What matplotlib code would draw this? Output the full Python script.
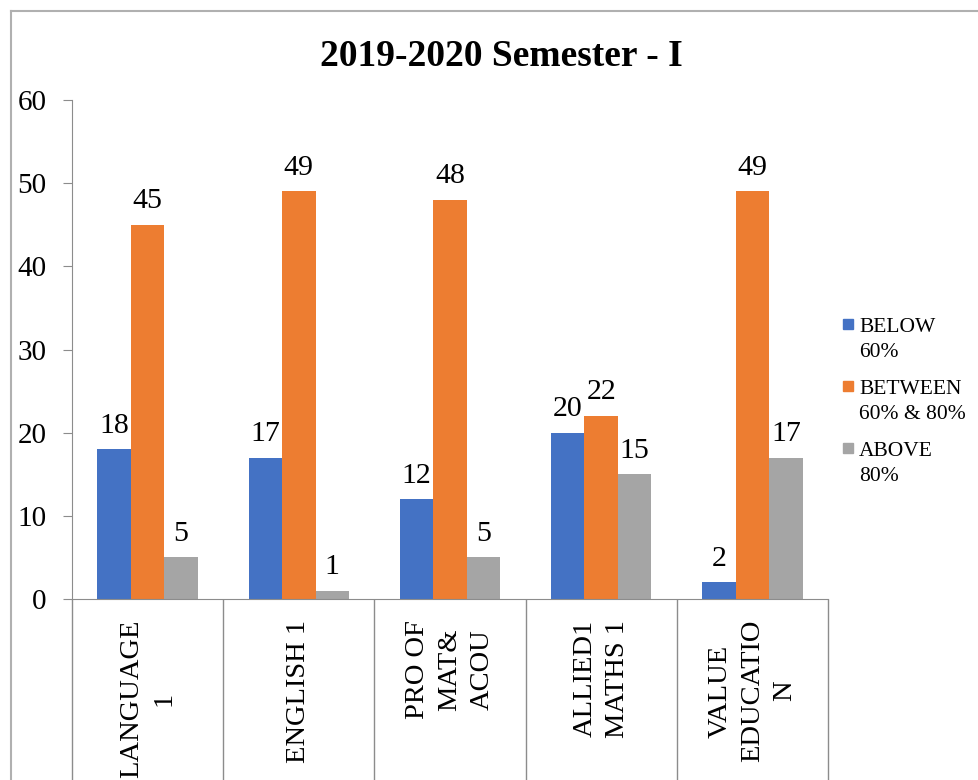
import matplotlib
matplotlib.use('Agg')
import matplotlib.pyplot as plt
import numpy as np
from matplotlib.lines import Line2D
from matplotlib.patches import Rectangle

plt.rcParams['font.family'] = ['Liberation Serif', 'DejaVu Serif']

# 데이터
subjects = ['LANGUAGE\n1', 'ENGLISH 1', 'PRO OF\nMAT&\nACOU', 'ALLIED1\nMATHS 1', 'VALUE\nEDUCATIO\nN']
below_60 = [18, 17, 12, 20, 2]
between_60_80 = [45, 49, 48, 22, 49]
above_80 = [5, 1, 5, 15, 17]
series_names = ['BELOW\n60%', 'BETWEEN\n60% & 80%', 'ABOVE\n80%']
colors = ['#4472C4', '#ED7D31', '#A5A5A5']

W, H = 979, 780
fig = plt.figure(figsize=(W / 100, H / 100), dpi=100)
ax = fig.add_axes([72 / W, 1 - 599 / H, (828 - 72) / W, (599 - 100) / H])

x = np.arange(len(subjects))
w = 0.2216
series = [below_60, between_60_80, above_80]
for k, vals in enumerate(series):
    ax.bar(x + (k - 1) * w, vals, width=w, color=colors[k], label=series_names[k], zorder=2)
    # 막대 위에 값 표시
    for xi, v in zip(x + (k - 1) * w, vals):
        ax.annotate(str(v), (xi, v), xytext=(0, 12), textcoords='offset points',
                    ha='center', va='baseline', fontsize=21.5)

ax.set_xlim(-0.5, len(subjects) - 0.5)
ax.set_ylim(0, 60)
ax.set_yticks(range(0, 61, 10))
ax.tick_params(axis='y', labelsize=21, length=6.5, color='#8c8c8c', pad=12)

# 카테고리 구분선 (긴 눈금)
ax.set_xticks([])
ax.set_xticks(np.arange(-0.5, len(subjects), 1), minor=True)
ax.tick_params(axis='x', which='minor', length=140, color='#8c8c8c', width=1)
for i, s in enumerate(subjects):
    ax.annotate(s, (i, 0), xycoords=('data', 'axes fraction'), xytext=(0, -15),
                textcoords='offset points', rotation=90, ha='center', va='top',
                multialignment='center', fontsize=20.5, linespacing=1.4)

for sp in ['top', 'right']:
    ax.spines[sp].set_visible(False)
ax.spines['left'].set_color('#8c8c8c')
ax.spines['bottom'].set_color('#8c8c8c')

fig.text(0.5123, 1 - 56 / H, '2019-2020 Semester - I', ha='center', va='center',
         fontsize=27, fontweight='bold')

# 범례 (표식을 첫 줄 옆에 둠)
for k, name in enumerate(series_names):
    yc = 324 + k * 62
    fig.add_artist(Rectangle((843 / W, 1 - (yc + 5) / H), 10 / W, 10 / H,
                             transform=fig.transFigure, color=colors[k]))
    fig.text(859 / W, 1 - (yc - 6) / H, name, ha='left', va='top',
             fontsize=15.5, linespacing=1.45)

# 바깥 테두리
fig.add_artist(Line2D([11 / W, 11 / W], [0, 1 - 11 / H], color='#b0b0b0', lw=1.5))
fig.add_artist(Line2D([11 / W, 1], [1 - 11 / H, 1 - 11 / H], color='#b0b0b0', lw=1.5))

fig.savefig('out.png', dpi=100)
